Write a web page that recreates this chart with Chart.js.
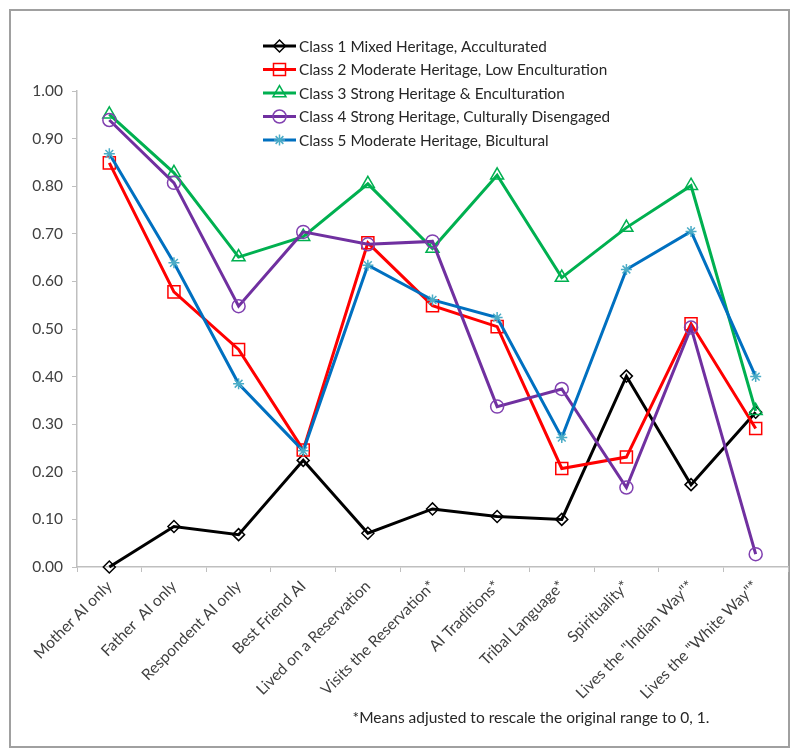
<!DOCTYPE html>
<html><head><meta charset="utf-8">
<script src="https://cdn.jsdelivr.net/npm/chart.js@4.4.1/dist/chart.umd.min.js"></script>
<style>html,body{margin:0;padding:0;background:#fff}#wrap{width:800px;height:756px;position:relative}</style>
</head><body><div id="wrap"><canvas id="c" width="800" height="756"></canvas></div>
<script>
const categories = ['Mother AI only','Father  AI only','Respondent AI only','Best Friend AI','Lived on a Reservation','Visits the Reservation*','AI Traditions*','Tribal Language*','Spirituality*','Lives the "Indian Way"*','Lives the "White Way"*'];
const seriesNames = ['Class 1 Mixed Heritage, Acculturated','Class 2 Moderate Heritage, Low Enculturation','Class 3 Strong Heritage & Enculturation','Class 4 Strong Heritage, Culturally Disengaged','Class 5 Moderate Heritage, Bicultural'];
const class1 = [0.000,0.085,0.068,0.224,0.071,0.122,0.106,0.100,0.401,0.173,0.325];
const class2 = [0.849,0.578,0.457,0.246,0.681,0.549,0.505,0.207,0.231,0.511,0.291];
const class3 = [0.951,0.828,0.651,0.694,0.805,0.669,0.823,0.608,0.713,0.801,0.328];
const class4 = [0.939,0.807,0.548,0.704,0.678,0.684,0.337,0.374,0.167,0.503,0.027];
const class5 = [0.868,0.639,0.385,0.244,0.634,0.561,0.524,0.272,0.625,0.705,0.400];
const yTickValues = [0,0.1,0.2,0.3,0.4,0.5,0.6,0.7,0.8,0.9,1.0];
const footnote = '*Means adjusted to rescale the original range to 0, 1.';

const FONT = 'Lato, "Open Sans", sans-serif';
const TXT = '#404040';

function ds(label, data, color, ptColor, style, radius, order) {
  return {label, data, borderColor: color, borderWidth: 3, pointStyle: style, pointRadius: radius,
    pointHoverRadius: radius, pointBorderColor: ptColor, pointBackgroundColor: 'rgba(0,0,0,0)',
    pointBorderWidth: 1.5, tension: 0, fill: false, order, clip: false};
}

const datasets = [
  ds(seriesNames[0], class1, '#000000', '#000000', 'rectRot', 6, 5),
  ds(seriesNames[1], class2, '#ff0000', '#ff0000', 'rect', 8.5, 4),
  ds(seriesNames[2], class3, '#00b050', '#00b050', 'triangle', 7.5, 3),
  ds(seriesNames[3], class4, '#7030a0', '#8040b0', 'circle', 6.5, 2),
  ds(seriesNames[4], class5, '#0070c0', '#4bacc6', 'star', 5.5, 1)
];

const borderPlugin = {
  id: 'outerBorder',
  beforeDraw(chart) {
    const ctx = chart.ctx;
    ctx.save();
    ctx.fillStyle = '#fff';
    ctx.fillRect(0, 0, chart.width, chart.height);
    ctx.strokeStyle = '#a0a0a0';
    ctx.lineWidth = 2;
    ctx.strokeRect(10, 10, 779, 737);
    ctx.restore();
  }
};

const legendPlugin = {
  id: 'customLegend',
  afterDraw(chart) {
    const ctx = chart.ctx;
    ctx.save();
    const x0 = 263, x1 = 296, tx = 299, y0 = 46, dy = 23.5;
    chart.data.datasets.forEach((d, i) => {
      const y = y0 + i * dy;
      ctx.strokeStyle = d.borderColor;
      ctx.lineWidth = 3;
      ctx.beginPath(); ctx.moveTo(x0, y); ctx.lineTo(x1, y); ctx.stroke();
      ctx.strokeStyle = d.pointBorderColor;
      ctx.fillStyle = 'rgba(0,0,0,0)';
      ctx.lineWidth = 1.5;
      Chart.helpers.drawPoint(ctx, {pointStyle: d.pointStyle, radius: d.pointRadius, borderWidth: 1.5, rotation: 0}, (x0 + x1) / 2, y);
      ctx.fillStyle = '#262626';
      ctx.font = '15.3px ' + FONT;
      ctx.textBaseline = 'middle';
      ctx.textAlign = 'left';
      ctx.fillText(d.label, tx, y + 1);
    });
    ctx.fillStyle = '#262626';
    ctx.font = '15.5px ' + FONT;
    ctx.textAlign = 'center';
    ctx.textBaseline = 'middle';
    ctx.fillText(footnote, 531, 718);
    ctx.restore();
  }
};

new Chart(document.getElementById('c'), {
  type: 'line',
  data: {labels: categories, datasets},
  options: {
    responsive: false,
    animation: false,
    devicePixelRatio: 1,
    layout: {padding: {top: 91, right: 12, bottom: 0, left: 0}},
    plugins: {legend: {display: false}, tooltip: {enabled: false}, title: {display: false}},
    scales: {
      x: {
        type: 'category',
        offset: true,
        grid: {offset: true, drawOnChartArea: false, drawTicks: true, tickLength: 5, color: '#bfbfbf'},
        border: {color: '#bfbfbf', width: 1.5},
        ticks: {autoSkip: false, minRotation: 45, maxRotation: 45, padding: 5, color: TXT, font: {family: FONT, size: 15.5}},
        afterFit(s) { s.height = 756 - 567; }
      },
      y: {
        min: 0, max: 1,
        afterBuildTicks(s) { s.ticks = yTickValues.map(v => ({value: v})); },
        grid: {drawOnChartArea: false, drawTicks: true, tickLength: 5, color: '#bfbfbf'},
        border: {color: '#bfbfbf', width: 1.5},
        ticks: {padding: 9, color: TXT, font: {family: FONT, size: 15.5}, callback: v => Number(v).toFixed(2)},
        afterFit(s) { s.width = 77; }
      }
    }
  },
  plugins: [borderPlugin, legendPlugin]
});
</script>
</body></html>
